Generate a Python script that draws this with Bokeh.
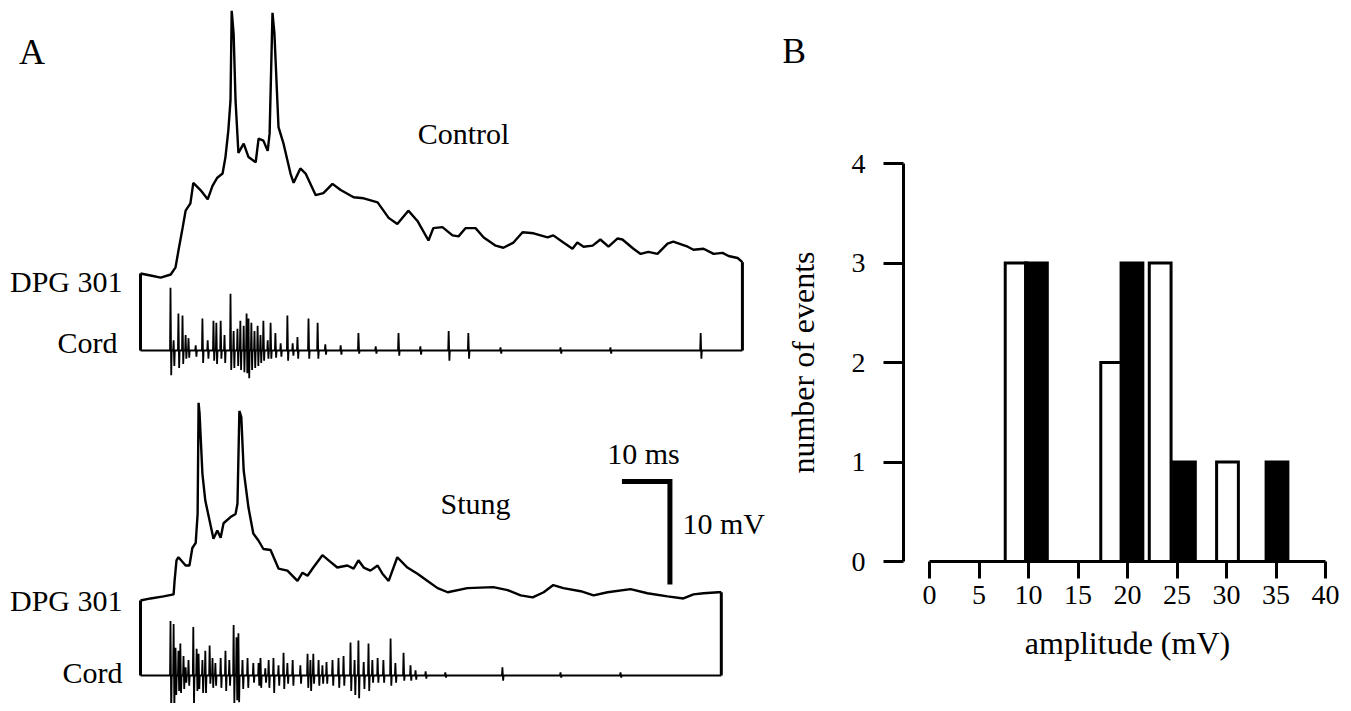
from bokeh.plotting import figure
from bokeh.models import Range1d, Label, FixedTicker
from bokeh.layouts import row
from bokeh.embed import file_html
from bokeh.resources import INLINE

# ---------------- Panel A data (time in ms, potential in mV relative to trace start) ----------------
ctrl_dpg_t = [0, 2.1, 4.2, 6.3, 7.3, 7.9, 8.8, 9.4, 10.4, 11.0, 12.5, 14.0, 15.0, 16.0, 17.1, 17.7,
              18.3, 18.75, 19.0, 19.4, 19.8, 20.4, 21.5, 22.5, 24.0, 24.6, 25.6, 26.5, 26.9, 27.5,
              27.9, 28.75, 29.8, 31.25, 31.9, 33.3, 34.4, 36.5, 38.1, 40.0, 41.7, 44.4, 46.5, 49.4,
              51.7, 53.5, 55.8, 57.7, 60.0, 61.0, 62.9, 65.0, 66.25, 67.7, 69.8, 71.5, 74.0, 75.6,
              77.7, 79.6, 81.9, 84.8, 86.0, 88.1, 90.0, 91.0, 92.3, 94.2, 95.8, 97.5, 99.4, 100.4,
              102.7, 104.2, 105.8, 107.7, 109.8, 111.0, 114.0, 115.2, 117.3, 119.4, 121.25, 122.5,
              124.4, 125.4]
ctrl_dpg_v = [0, -0.2, -0.4, -0.1, 0.6, 2.2, 4.5, 6.1, 6.8, 8.8, 8.1, 7.2, 8.5, 9.3, 9.7, 11.3,
              13.9, 16.8, 25.5, 23.3, 16.8, 11.7, 12.6, 11.3, 10.8, 13.1, 12.9, 11.9, 13.6, 25.3,
              23.3, 14.2, 12.6, 9.7, 8.8, 10.2, 9.7, 7.6, 7.8, 8.7, 8.1, 7.4, 7.3, 6.9,
              5.4, 4.8, 6.1, 5.1, 3.2, 4.4, 4.5, 3.7, 3.6, 4.4, 4.4, 3.5, 2.7, 2.5,
              3.0, 4.0, 3.9, 3.5, 3.7, 3.0, 2.4, 3.0, 2.6, 2.7, 3.3, 2.6, 3.4, 3.3,
              2.4, 1.9, 2.1, 1.9, 2.9, 3.1, 2.6, 2.3, 2.4, 1.9, 2.0, 1.7,
              1.5, 1.1]

stung_dpg_t = [0, 2.1, 4.8, 6.9, 7.1, 7.5, 7.9, 9.4, 10.2, 10.8, 11.5, 11.9, 12.1, 12.3, 12.9, 13.5,
               15.2, 16.0, 16.7, 17.3, 18.75, 19.8, 20.2, 20.6, 21.0, 21.5, 22.5, 23.5, 24.6, 25.6,
               27.1, 28.75, 30.6, 32.7, 33.75, 34.8, 36.0, 37.9, 39.2, 41.0, 43.1, 44.4, 45.4, 46.5,
               47.9, 49.4, 50.4, 51.7, 53.5, 55.6, 57.7, 59.8, 61.9, 64.0, 68.1, 73.5, 76.5, 79.2,
               81.7, 84.0, 86.0, 88.1, 91.7, 94.4, 97.3, 102.1, 105.6, 109.8, 113.1, 115.2, 117.3,
               120.4, 121.0]
stung_dpg_v = [0, 0.2, 0.4, 0.6, 1.9, 3.9, 4.2, 3.4, 3.4, 5.1, 5.6, 8.4, 19.2, 18.2, 12.3, 9.7,
               6.0, 6.8, 6.1, 7.5, 8.1, 8.4, 9.4, 18.4, 17.8, 12.6, 9.0, 6.5, 5.8, 5.0,
               4.9, 3.1, 2.9, 1.9, 2.7, 2.4, 3.2, 4.4, 3.9, 3.2, 3.4, 3.1, 3.9, 3.2,
               2.9, 3.4, 2.6, 1.9, 4.2, 3.2, 2.6, 1.9, 1.2, 0.8, 1.2, 1.3, 1.0, 0.5,
               0.3, 0.8, 1.5, 1.2, 0.9, 0.5, 0.8, 1.1, 0.7, 0.4, 0.2, 0.6, 0.7,
               0.8, 0.8]

# Cord (extracellular) spikes: time, upward and downward deflection
ctrl_cord_t = [6.25, 6.9, 7.9, 8.75, 9.4, 10.0, 11.5, 12.9, 14.0, 15.2, 15.8, 16.7, 17.5, 18.75,
               19.4, 20.2, 20.8, 21.5, 22.1, 22.5, 23.1, 23.75, 24.4, 25.0, 25.6, 26.5, 27.1, 28.1,
               29.2, 30.6, 31.7, 32.7, 35.0, 36.9, 38.5, 41.7, 45.4, 49.0, 53.75, 58.3, 64.2, 68.3,
               75.0, 87.5, 97.9, 116.7]
ctrl_cord_up = [6.1, 1.0, 3.6, 3.4, 1.5, 1.2, 0.5, 3.1, 1.0, 2.9, 2.7, 2.9, 1.5, 5.5,
                1.9, 2.1, 2.9, 2.4, 3.6, 3.1, 2.7, 1.9, 2.4, 1.5, 2.9, 1.0, 2.7, 1.7,
                0.7, 3.4, 0.7, 1.3, 3.1, 2.7, 0.6, 0.5, 1.7, 0.4, 1.7, 0.4, 1.9, 1.7,
                0.3, 0.3, 0.3, 1.7]
ctrl_cord_dn = [2.4, 1.5, 1.7, 1.3, 0.8, 0.7, 0.6, 1.2, 0.8, 1.0, 1.3, 0.8, 1.2, 1.9,
                1.7, 1.5, 1.9, 2.1, 2.2, 2.7, 1.9, 1.7, 1.5, 1.2, 1.0, 0.8, 0.8, 0.7,
                0.6, 1.0, 0.5, 0.8, 0.8, 0.8, 0.4, 0.4, 0.3, 0.3, 0.5, 0.4, 1.0, 0.8,
                0.3, 0.3, 0.3, 0.8]
ctrl_end = 125.4

stung_cord_t = [6.25, 6.9, 7.3, 7.9, 8.3, 8.96, 9.4, 10.0, 11.0, 11.7, 12.1, 12.9, 13.5, 14.4,
                15.0, 15.6, 16.7, 17.7, 18.5, 19.4, 20.0, 20.4, 21.25, 22.3, 23.5, 24.6, 25.0,
                26.0, 26.7, 27.7, 28.75, 29.8, 30.6, 31.7, 33.3, 34.8, 35.4, 36.0, 37.1, 37.9,
                38.75, 40.0, 41.25, 42.3, 43.75, 44.6, 45.4, 46.5, 47.5, 48.3, 49.4, 50.6, 52.1,
                53.1, 54.8, 56.25, 57.3, 59.4, 63.5, 75.4, 87.5, 100.0]
stung_cord_up = [5.3, 5.0, 2.7, 2.4, 3.1, 1.9, 0.8, 1.5, 4.7, 2.6, 2.1, 1.5, 2.4, 2.9,
                 1.7, 1.2, 1.7, 2.4, 1.5, 4.9, 3.7, 4.1, 1.5, 1.7, 1.2, 1.2, 1.7,
                 0.7, 1.5, 1.7, 1.0, 2.2, 1.2, 1.5, 1.0, 2.1, 1.5, 2.1, 1.5, 1.0,
                 1.3, 1.5, 1.7, 1.9, 3.2, 1.5, 3.4, 1.3, 3.1, 1.5, 1.7, 1.5, 3.6,
                 1.2, 2.2, 1.0, 0.5, 0.4, 0.3, 0.8, 0.3, 0.3]
stung_cord_dn = [3.6, 3.4, 1.9, 1.5, 1.7, 1.3, 0.7, 1.0, 2.9, 1.5, 1.3, 1.7, 1.7, 0.8,
                 1.2, 1.0, 1.2, 1.5, 1.0, 2.7, 2.4, 2.6, 1.3, 1.2, 0.7, 1.0, 1.2,
                 0.7, 1.2, 1.7, 1.0, 1.3, 0.8, 1.0, 0.8, 1.2, 1.5, 0.8, 1.0, 0.8,
                 0.8, 1.0, 1.2, 1.0, 1.5, 1.9, 2.2, 1.3, 1.5, 0.7, 0.7, 0.7, 1.0,
                 0.7, 0.5, 0.5, 0.4, 0.3, 0.2, 0.5, 0.2, 0.2]
stung_end = 121.0

SCALE_MS = 10
SCALE_MV = 10

# ---------------- Panel B data ----------------
white_centers = [8.75, 18.4, 23.3, 30.1]
white_counts = [3, 2, 3, 1]
black_centers = [10.8, 20.45, 25.75, 35.1]
black_counts = [3, 3, 1, 1]
x_ticks = [0, 5, 10, 15, 20, 25, 30, 35, 40]
y_ticks = [0, 1, 2, 3, 4]

FONT = "Liberation Serif"
H = 703

# ---------------- Panel A ----------------
PX_PER_MS = 4.8
PX_PER_MV = 10.3
A_W = 783
x0 = -140 / PX_PER_MS
pa = figure(width=A_W, height=H, x_range=Range1d(x0, x0 + A_W / PX_PER_MS),
            y_range=Range1d(0, H / PX_PER_MV), toolbar_location=None, output_backend="svg",
            x_axis_type=None, y_axis_type=None, min_border=0)
pa.outline_line_color = None
pa.background_fill_color = "white"

CTRL_DPG_Y, CTRL_CORD_Y = 41.75, 34.27
STUNG_DPG_Y, STUNG_CORD_Y = 10.0, 2.72


def cord_path(times, ups, downs, t_end):
    xs, ys = [0.0], [0.0]
    for t, u, d in zip(times, ups, downs):
        xs += [t - 0.1, t, t + 0.15, t + 0.25]
        ys += [0.0, u, -d, 0.0]
    xs.append(t_end)
    ys.append(0.0)
    return xs, ys


def draw_pair(dpg_t, dpg_v, c_t, c_up, c_dn, c_end, dpg_off, cord_off):
    pa.line(dpg_t, [v + dpg_off for v in dpg_v], line_color="black", line_width=2.4)
    cx, cy = cord_path(c_t, c_up, c_dn, c_end)
    pa.line(cx, [v + cord_off for v in cy], line_color="black", line_width=1.8)
    pa.segment(x0=[dpg_t[0], dpg_t[-1]], y0=[dpg_v[0] + dpg_off, dpg_v[-1] + dpg_off],
               x1=[dpg_t[0], c_end], y1=[cord_off, cord_off], line_color="black", line_width=3)


draw_pair(ctrl_dpg_t, ctrl_dpg_v, ctrl_cord_t, ctrl_cord_up, ctrl_cord_dn, ctrl_end,
          CTRL_DPG_Y, CTRL_CORD_Y)
draw_pair(stung_dpg_t, stung_dpg_v, stung_cord_t, stung_cord_up, stung_cord_dn, stung_end,
          STUNG_DPG_Y, STUNG_CORD_Y)

# scale bar
SB_X, SB_Y = 100.3, 21.55
pa.line([SB_X, SB_X + SCALE_MS, SB_X + SCALE_MS], [SB_Y, SB_Y, SB_Y - SCALE_MV],
        line_color="black", line_width=5, line_join="miter")


def lab(fig, x, y, text, size="30px", align="center"):
    fig.add_layout(Label(x=x, y=y, text=text, text_font=FONT, text_font_size=size,
                         text_align=align, text_baseline="middle", text_color="black"))


lab(pa, -22.6, 63.25, "A", size="36px")
lab(pa, 67.3, 55.3, "Control")
lab(pa, 69.8, 19.4, "Stung")
lab(pa, 104.8, 24.3, f"{SCALE_MS} ms")
lab(pa, 112.9, 17.5, f"{SCALE_MV} mV", align="left")
lab(pa, -3.75, 40.97, "DPG 301", align="right")
lab(pa, -4.8, 35.05, "Cord", align="right")
lab(pa, -3.75, 10.0, "DPG 301", align="right")
lab(pa, -3.75, 3.0, "Cord", align="right")

# ---------------- Panel B ----------------
B_LEFT = 783
B_W = 560
PX_PER_AMP = 9.9
PX_PER_N = 99.5
X0_PX, Y0_PX = 929, 561   # where amplitude 0 / count 0 fall on the canvas
YAXIS_PX = 903
pb = figure(width=B_W, height=H,
            x_range=Range1d((B_LEFT - X0_PX) / PX_PER_AMP, (B_LEFT + B_W - X0_PX) / PX_PER_AMP),
            y_range=Range1d((Y0_PX - H) / PX_PER_N, Y0_PX / PX_PER_N),
            toolbar_location=None, output_backend="svg", min_border=0)
pb.outline_line_color = None
pb.grid.visible = False

pb.vbar(x=white_centers, top=white_counts, bottom=0, width=2.2, fill_color="white",
        line_color="black", line_width=3, line_join="miter")
pb.vbar(x=black_centers, top=black_counts, bottom=0, width=2.2, fill_color="black",
        line_color="black", line_width=3, line_join="miter")

xa = pb.xaxis[0]
xa.fixed_location = 0
xa.bounds = (x_ticks[0], x_ticks[-1])
xa.ticker = FixedTicker(ticks=x_ticks)
xa.minor_tick_line_color = None
xa.axis_line_width = 3
xa.major_tick_line_width = 3
xa.major_tick_out = 17
xa.major_tick_in = 0
xa.major_label_standoff = 7
xa.major_label_text_font = FONT
xa.major_label_text_font_size = "28px"
xa.major_label_text_color = "black"
xa.axis_label = "amplitude (mV)"
xa.axis_label_text_font = FONT
xa.axis_label_text_font_size = "32px"
xa.axis_label_text_font_style = "normal"
xa.axis_label_text_color = "black"
xa.axis_label_standoff = 18

ya = pb.yaxis[0]
ya.fixed_location = (YAXIS_PX - X0_PX) / PX_PER_AMP
ya.bounds = (y_ticks[0], y_ticks[-1])
ya.ticker = FixedTicker(ticks=y_ticks)
ya.minor_tick_line_color = None
ya.axis_line_width = 3
ya.major_tick_line_width = 3
ya.major_tick_out = 20
ya.major_tick_in = 0
ya.major_label_standoff = 18
ya.major_label_text_font = FONT
ya.major_label_text_font_size = "28px"
ya.major_label_text_color = "black"
ya.axis_label = "number of events"
ya.axis_label_text_font = FONT
ya.axis_label_text_font_size = "32px"
ya.axis_label_text_font_style = "normal"
ya.axis_label_text_color = "black"
ya.axis_label_standoff = 28

pb.add_layout(Label(x=(793.5 - X0_PX) / PX_PER_AMP, y=(Y0_PX - 50) / PX_PER_N, text="B",
                    text_font=FONT, text_font_size="36px", text_align="center",
                    text_baseline="middle", text_color="black"))

layout = row(pa, pb)
open("out.html", "w").write(file_html(layout, INLINE))
